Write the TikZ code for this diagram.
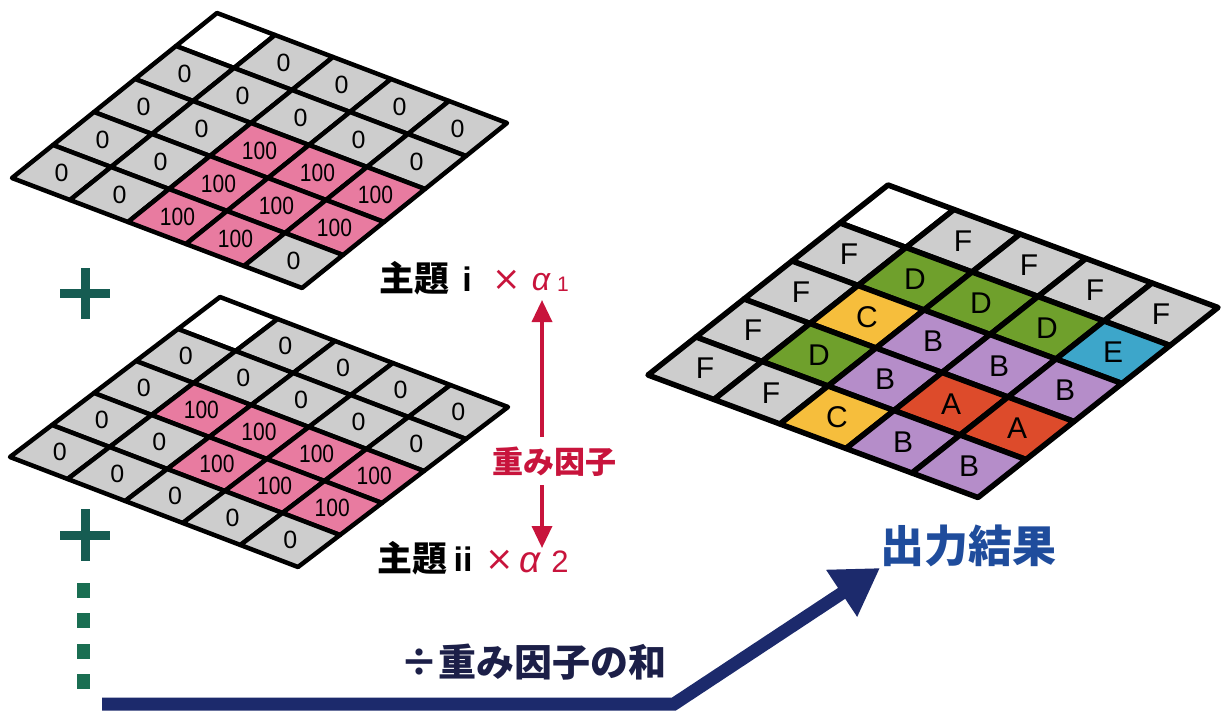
\documentclass[tikz,border=0pt]{standalone}
\usepackage{fontspec}
\setmainfont{Liberation Sans}
\newfontfamily\jpf{Noto Sans CJK JP}
\newfontfamily\dvf{DejaVu Sans}
\newfontfamily\narrowf{Liberation Sans}[FakeStretch=0.84]
\usetikzlibrary{arrows.meta}
\definecolor{c0}{HTML}{CDCDCD}
\definecolor{c100}{HTML}{E87BA0}
\definecolor{cW}{HTML}{FFFFFF}
\definecolor{cA}{HTML}{DD4B2B}
\definecolor{cB}{HTML}{B58DC9}
\definecolor{cC}{HTML}{F6BE3C}
\definecolor{cD}{HTML}{6FA02C}
\definecolor{cE}{HTML}{3DA6CA}
\definecolor{cF}{HTML}{CDCDCD}
\definecolor{redlab}{HTML}{C8143C}
\definecolor{plusgreen}{HTML}{165C52}
\definecolor{dotgreen}{HTML}{1A6E52}
\definecolor{navyline}{HTML}{1C2A6C}
\definecolor{navytext}{HTML}{1C1F48}
\definecolor{bluetext}{HTML}{1F4C9C}
\tikzset{
  cellthin/.style={draw=black, line width=4.5pt, line join=round},
  cellthick/.style={draw=black, line width=5.5pt, line join=round},
  numlab/.style={inner sep=0pt, font=\fontsize{25}{25}\selectfont},
  letlab/.style={inner sep=0pt, font=\fontsize{30}{30}\selectfont},
  jpb/.style={inner sep=0pt, font=\fontsize{#1}{#1}\selectfont\jpf\bfseries},
  latb/.style={inner sep=0pt, font=\fontsize{#1}{#1}\selectfont\bfseries},
  redr/.style={inner sep=0pt, text=redlab, font=\fontsize{#1}{#1}\selectfont},
  redx/.style={inner sep=0pt, text=redlab, font=\fontsize{#1}{#1}\selectfont\dvf},
  redi/.style={inner sep=0pt, text=redlab, font=\fontsize{#1}{#1}\selectfont\itshape},
  plusbar/.style={draw=plusgreen, line width=9pt},
  dotsq/.style={fill=dotgreen},
  redarr/.style={draw=redlab, line width=3.5pt, -{Triangle[length=22pt,width=20pt]}},
  bluearr/.style={draw=navyline, line width=13pt, line join=miter, -{Triangle[length=46pt,width=53pt]}},
}
\begin{document}
\begin{tikzpicture}[x=1pt,y=-1pt]
\useasboundingbox (0,0) rectangle (1221,712);
\fill[white] (0,0) rectangle (1221,712);

% ---------- grid 1 ----------
\begin{scope}[shift={(217,13)}, x={(58pt,-22pt)}, y={(-41pt,-33pt)}]
  \draw[cellthin, fill=cW] (0,0) -- (1,0) -- (1,1) -- (0,1) -- cycle;
  \foreach \lab [count=\c] in {0,0,0,0} {
    \draw[cellthin, fill=c\lab] (\c,0) -- ++(1,0) -- ++(0,1) -- ++(-1,0) -- cycle;
    \node[numlab] (ga-0-\c) at (\c+0.5,0.5) {\ifnum\lab=100 \narrowf\fi\lab};
  }
  \foreach \row [count=\r] in {{0,0,0,0,0},{0,0,100,100,100},{0,0,100,100,100},{0,0,100,100,0}} {
    \foreach \lab [count=\cc from 0] in \row {
      \draw[cellthin, fill=c\lab] (\cc,\r) -- ++(1,0) -- ++(0,1) -- ++(-1,0) -- cycle;
      \node[numlab] (ga-\r-\cc) at (\cc+0.5,\r+0.5) {\ifnum\lab=100 \narrowf\fi\lab};
    }
  }
\end{scope}

% ---------- grid 2 ----------
\begin{scope}[shift={(220,297)}, x={(57.6pt,-22pt)}, y={(-42pt,-32pt)}]
  \draw[cellthin, fill=cW] (0,0) -- (1,0) -- (1,1) -- (0,1) -- cycle;
  \foreach \lab [count=\c] in {0,0,0,0} {
    \draw[cellthin, fill=c\lab] (\c,0) -- ++(1,0) -- ++(0,1) -- ++(-1,0) -- cycle;
    \node[numlab] (gb-0-\c) at (\c+0.5,0.5) {\ifnum\lab=100 \narrowf\fi\lab};
  }
  \foreach \row [count=\r] in {{0,0,0,0,0},{0,100,100,100,100},{0,0,100,100,100},{0,0,0,0,0}} {
    \foreach \lab [count=\cc from 0] in \row {
      \draw[cellthin, fill=c\lab] (\cc,\r) -- ++(1,0) -- ++(0,1) -- ++(-1,0) -- cycle;
      \node[numlab] (gb-\r-\cc) at (\cc+0.5,\r+0.5) {\ifnum\lab=100 \narrowf\fi\lab};
    }
  }
\end{scope}

% ---------- grid 3 (result) ----------
\begin{scope}[shift={(888,185)}, x={(66pt,-24.5pt)}, y={(-48pt,-38pt)}]
  \draw[cellthick, fill=cW] (0,0) -- (1,0) -- (1,1) -- (0,1) -- cycle;
  \foreach \lab [count=\c] in {F,F,F,F} {
    \draw[cellthick, fill=c\lab] (\c,0) -- ++(1,0) -- ++(0,1) -- ++(-1,0) -- cycle;
    \node[letlab] (gc-0-\c) at (\c+0.5,0.5) {\lab};
  }
  \foreach \row [count=\r] in {{F,D,D,D,E},{F,C,B,B,B},{F,D,B,A,A},{F,F,C,B,B}} {
    \foreach \lab [count=\cc from 0] in \row {
      \draw[cellthick, fill=c\lab] (\cc,\r) -- ++(1,0) -- ++(0,1) -- ++(-1,0) -- cycle;
      \node[letlab] (gc-\r-\cc) at (\cc+0.5,\r+0.5) {\lab};
    }
  }
\end{scope}

% ---------- plus signs and dots ----------
\draw[plusbar] (60,293.5) -- (110,293.5);
\draw[plusbar] (85.5,268) -- (85.5,319);
\draw[plusbar] (60,535) -- (110,535);
\draw[plusbar] (85.5,509) -- (85.5,561);
\fill[dotsq] (77,583) rectangle (90,598);
\fill[dotsq] (77,613) rectangle (90,628);
\fill[dotsq] (77,644) rectangle (90,659);
\fill[dotsq] (77,674) rectangle (90,689);

% ---------- theme labels ----------
\node[jpb=35] (t1) at (414,278.5) {主題};
\node[latb=34] (t1i) at (467,279) {i};
\node[redx=34] (t1x) at (507,280) {×};
\node[redi=32] (t1a) at (541,282) {α};
\node[redr=21] (t1n) at (563,284.5) {1};

\node[jpb=35] (t2) at (412,558.5) {主題};
\node[latb=34] (t2i) at (463,559) {ii};
\node[redx=34] (t2x) at (500,560) {×};
\node[redi=37] (t2a) at (530,563) {α};
\node[redr=31] (t2n) at (560,562) {2};

% ---------- weight factor arrow ----------
\node[jpb=31, text=redlab, anchor=west] (wf) at (492,462) {重み因子};
\coordinate (ra1) at (542,300);
\coordinate (ra2) at (542,437);
\coordinate (ra3) at (542,485);
\coordinate (ra4) at (542,548);
\draw[redarr] (ra2) -- (ra1);
\draw[redarr] (ra3) -- (ra4);

% ---------- result arrow ----------
\node[jpb=38, text=navytext] (div) at (533,662.5) {÷重み因子の和};
\node[jpb=44, text=bluetext] (res) at (968.5,546) {出力結果};
\coordinate (b0) at (102,704);
\coordinate (b1) at (674,704);
\coordinate (b2) at (880,568);
\draw[bluearr] (b0) -- (b1) -- (b2);
\end{tikzpicture}
\end{document}
